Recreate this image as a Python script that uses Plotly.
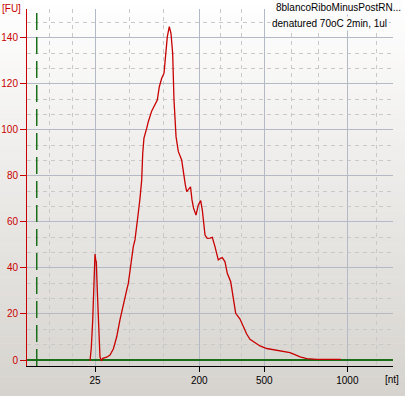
import plotly.graph_objects as go

# ---- data ----
time_s = [27.61, 27.78, 27.98, 28.15, 28.29, 28.39, 28.47, 28.60, 28.80, 28.97,
          29.15, 29.34, 29.89, 30.34, 30.79, 31.25, 31.70, 32.16, 32.62, 32.84,
          33.07, 33.52, 33.75, 33.99, 34.20, 34.44, 34.67, 34.81, 34.98, 35.35,
          35.57, 36.04, 36.49, 36.80, 37.07, 37.40, 37.72, 37.95, 38.17, 38.44,
          38.67, 38.90, 39.08, 39.36, 39.67, 40.13, 40.35, 40.63, 40.82, 41.04,
          41.34, 41.54, 41.75, 42.09, 42.40, 42.73, 42.95, 43.32, 43.63, 44.00,
          44.31, 44.68, 45.13, 45.37, 45.68, 46.05, 46.36, 46.83, 47.18, 47.51,
          48.10, 48.55, 49.01, 49.46, 50.15, 50.83, 51.75, 52.65, 54.01, 54.93,
          55.84, 56.30, 57.21, 58.58, 61.86]
fu = [-0.3, 5.2, 17.4, 34.8, 46.1, 43.5, 42.7, 30.4, 14.5, 1.4,
      -0.4, 0.7, 1.2, 2.2, 4.8, 10.0, 17.4, 24.7, 30.4, 33.3,
      39.1, 49.3, 52.2, 57.4, 63.8, 70.4, 78.3, 89.9, 96.5, 100.7,
      103.6, 108.3, 110.9, 113.0, 118.7, 122.5, 124.7, 133.3, 140.6, 144.9,
      142.0, 133.3, 113.0, 97.1, 90.7, 87.0, 81.7, 76.1, 73.2, 74.3,
      75.3, 69.6, 66.1, 63.0, 67.4, 69.3, 65.2, 54.3, 52.9, 53.0,
      53.3, 49.3, 43.5, 44.1, 44.5, 42.7, 37.7, 34.0, 26.1, 20.3,
      17.8, 14.5, 11.3, 9.0, 7.4, 6.1, 5.0, 4.4, 3.6, 3.2,
      2.0, 1.4, 0.6, 0.3, 0.3]

ladder_nt = [25, 200, 500, 1000]
ladder_time_s = [28.29, 42.54, 51.42, 62.76]
minor_grid_time_s = [22.10, 25.24, 33.03, 37.62, 45.43, 48.33, 55.16, 58.89, 66.68]
lower_marker_time_s = 20.33
fu_ticks = [0, 20, 40, 60, 80, 100, 120, 140]

sample_name = "8blancoRiboMinusPostRN..."
sample_note = "denatured 70oC 2min, 1ul"

# ---- layout constants ----
W, H = 405, 396
L, R, T, B = 27, 12, 9, 30
PW, PH = W - L - R, H - T - B
FONT = "Liberation Sans, Arial, sans-serif"
FS = 10
RED = "#c80000"
GREEN = "#1a6e1a"

fig = go.Figure()
fig.add_trace(go.Scatter(x=time_s, y=fu, mode="lines",
                         line=dict(color=RED, width=1.3), hoverinfo="skip",
                         showlegend=False))

# background vertical gradient (white -> light grey) across the whole page
shapes = []
n = 60
for i in range(n):
    py0 = H * i / n
    py1 = H * (i + 1) / n + 0.5
    f = (i + 0.5) / n
    c = (int(round(255 - 41 * f)), int(round(255 - 44 * f)), int(round(255 - 49 * f)))
    shapes.append(dict(type="rect", xref="paper", yref="paper", layer="below",
                       x0=-L / PW - 0.01, x1=1 + R / PW + 0.01,
                       y0=(H - B - py1) / PH, y1=(H - B - py0) / PH,
                       line=dict(width=0), fillcolor="rgb(%d,%d,%d)" % c))
fig.update_layout(shapes=shapes)

fig.add_vline(x=lower_marker_time_s, line=dict(color=GREEN, width=1.5, dash="17px,7px"))

fig.update_layout(
    width=W, height=H,
    margin=dict(l=L, r=R, t=T, b=B, autoexpand=False),
    paper_bgcolor="rgba(0,0,0,0)", plot_bgcolor="rgba(0,0,0,0)",
    font=dict(family=FONT, size=FS, color="black"),
    xaxis=dict(range=[19, 69], tickmode="array", tickvals=ladder_time_s,
               ticktext=[str(v) for v in ladder_nt], automargin=False,
               showline=True, linecolor="black", linewidth=1,
               ticks="outside", ticklen=5, tickcolor="black",
               showgrid=True, gridcolor="#b3bac5", gridwidth=1,
               zeroline=False,
               minor=dict(tickmode="array", tickvals=minor_grid_time_s,
                          showgrid=True, gridcolor="#c9c9c9", griddash="4px,4px",
                          gridwidth=1, ticks=""),
               tickfont=dict(size=FS, color="black", family=FONT)),
    yaxis=dict(range=[-2.61, 152.6], tickmode="array", tickvals=fu_ticks,
               automargin=False,
               showline=True, linecolor=RED, linewidth=1,
               ticks="outside", ticklen=6, tickcolor=RED,
               showgrid=True, gridcolor="#b3bac5", gridwidth=1,
               zeroline=True, zerolinecolor=GREEN, zerolinewidth=1.5,
               minor=dict(dtick=20 / 3, tick0=0, showgrid=True,
                          gridcolor="#c9c9c9", griddash="4px,4px", ticks=""),
               tickfont=dict(size=FS, color=RED, family=FONT)),
)

fig.add_annotation(text="[FU]", xref="paper", yref="paper",
                   x=-L / PW, y=(H - B - 8) / PH, xanchor="left", yanchor="middle",
                   showarrow=False, font=dict(size=FS, color=RED, family=FONT))
fig.add_annotation(text="[nt]", xref="paper", yref="paper",
                   x=(392 - L) / PW, y=(H - B - 379) / PH, xanchor="center", yanchor="middle",
                   showarrow=False, font=dict(size=FS, color="black", family=FONT))
fig.add_annotation(text=sample_name, xref="paper", yref="paper",
                   x=(403 - L) / PW, y=(H - B - 7) / PH, xanchor="right", yanchor="middle",
                   showarrow=False, bgcolor="#fdfdfd", borderpad=1,
                   font=dict(size=FS, color="black", family=FONT))
fig.add_annotation(text=sample_note, xref="paper", yref="paper",
                   x=(389 - L) / PW, y=(H - B - 24) / PH, xanchor="right", yanchor="middle",
                   showarrow=False, bgcolor="#fbfbfb", borderpad=1,
                   font=dict(size=FS, color="black", family=FONT))

fig.write_html("out.html", config={"displayModeBar": False},
               post_script="document.body.style.margin='0';document.body.style.overflow='hidden';")
